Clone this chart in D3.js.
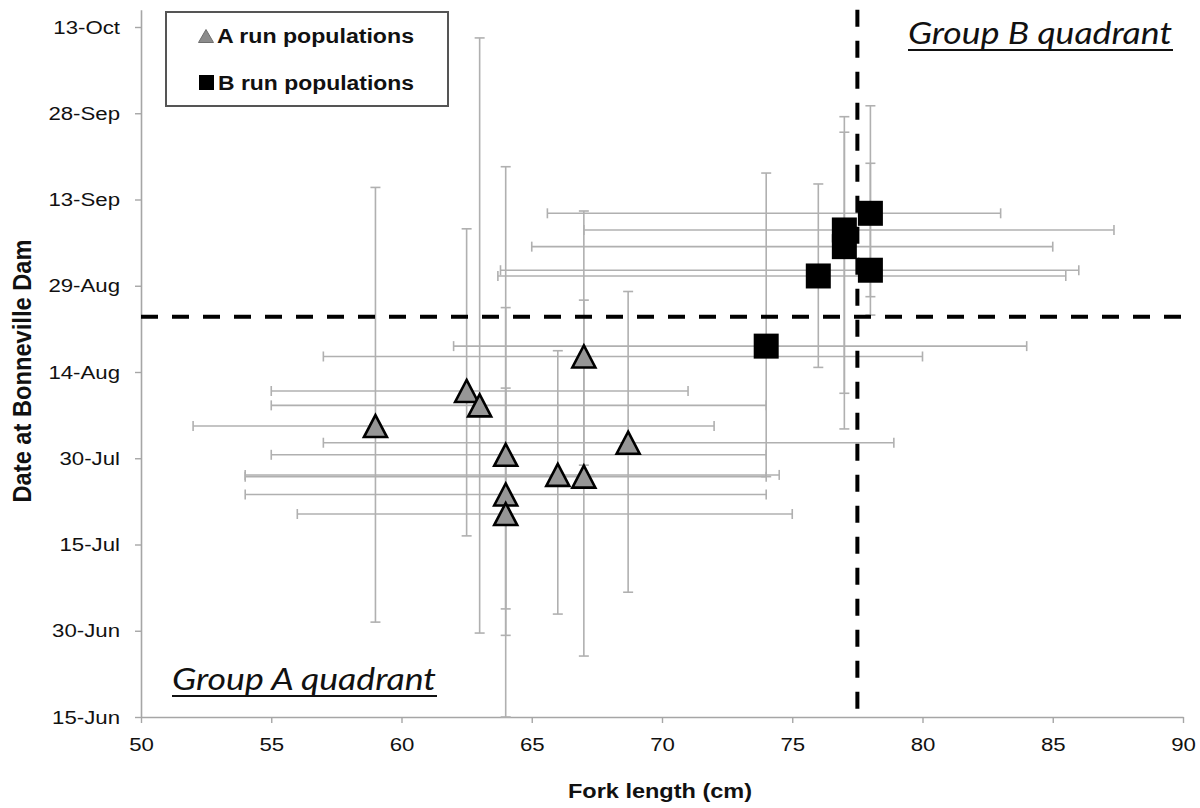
<!DOCTYPE html>
<html>
<head>
<meta charset="utf-8">
<script src="https://cdn.jsdelivr.net/npm/d3@7"></script>
<style>
  body { margin: 0; background: #fff; }
  svg { display: block; }
</style>
</head>
<body>
<div id="chart"></div>
<script>
// A run populations (triangles): fork length (cm), day of year at the dam, and error ranges
const aLength   = [59,    62.5,  63,    64,    64,    64,    66,    67,    67,    68.7];
const aDay      = [216.6, 222.7, 220.2, 211.6, 204.7, 201.3, 208.1, 207.8, 228.7, 213.7];
const aLengthLo = [52,    55,    55,    55,    54,    56,    54,    54,    57,    57];
const aLengthHi = [72,    71,    74,    74,    74,    75,    74.5,  74,    80,    78.9];
const aDayLo    = [182.5, 197.5, 180.6, 184.8, 180.2, 166,   183.9, 176.6, 209.8, 187.7];
const aDayHi    = [258.1, 250.9, 284.1, 261.7, 237.2, 223.2, 229.7, 238.5, 254,   240];

// B run populations (squares)
const bLength   = [74,    76,    77,    77,    78,    78];
const bDay      = [230.5, 242.7, 250.7, 247.8, 253.6, 243.7];
const bLengthLo = [62,    63.7,  67,    65,    65.6,  63.8];
const bLengthHi = [84,    85.5,  87.35, 85,    83,    86];
const bDayLo    = [207.8, 226.8, 222.3, 216.1, 239.1, 235.9];
const bDayHi    = [260.6, 258.7, 270.4, 267.7, 272.3, 262.3];

// quadrant split
const cutLength = 77.5;
const cutDay = 235.6;

const xTicks = [50, 55, 60, 65, 70, 75, 80, 85, 90];
const yTickDays = [166, 181, 196, 211, 226, 241, 256, 271, 286];
const yTickLabels = ["15-Jun", "30-Jun", "15-Jul", "30-Jul", "14-Aug", "29-Aug", "13-Sep", "28-Sep", "13-Oct"];

const width = 1200, height = 808;
const plotLeft = 141, plotRight = 1183, plotTop = 9.75, plotBottom = 717;

const x = d3.scaleLinear().domain([50, 90]).range([plotLeft, plotRight]);
const y = d3.scaleLinear().domain([166, 289]).range([plotBottom, plotTop]);

const svg = d3.select("#chart").append("svg")
  .attr("width", width)
  .attr("height", height)
  .style("font-family", "'Liberation Sans', Arial, sans-serif");

// stretch text horizontally (reference glyphs are wide)
function stretch(sel, k) {
  sel.each(function () {
    const t = d3.select(this);
    const tx = +t.attr("x") || 0, ty = +t.attr("y") || 0;
    t.attr("x", 0).attr("y", 0)
     .attr("transform", `translate(${tx},${ty}) scale(${k},1)`);
  });
}

// axes
const gx = svg.append("g")
  .attr("transform", `translate(0,${plotBottom})`)
  .call(d3.axisBottom(x).tickValues(xTicks).tickSize(6).tickSizeOuter(0).tickPadding(15));
const gy = svg.append("g")
  .attr("transform", `translate(${plotLeft},0)`)
  .call(d3.axisLeft(y).tickValues(yTickDays).tickFormat((d, i) => yTickLabels[i])
    .tickSize(6).tickSizeOuter(0).tickPadding(15));

[gx, gy].forEach(g => {
  g.select(".domain").attr("stroke", "#a6a6a6").attr("stroke-width", 1.6);
  g.selectAll(".tick line").attr("stroke", "#a6a6a6").attr("stroke-width", 1.4);
  g.selectAll("text").attr("font-size", 19).attr("fill", "#111")
    .attr("font-family", "'Liberation Sans', Arial, sans-serif");
});
stretch(gx.selectAll("text"), 1.17);
stretch(gy.selectAll("text"), 1.17);

// error bars
const cap = 5;
function errorBars(xs, ys, xlo, xhi, ylo, yhi) {
  const g = svg.append("g").attr("stroke", "#b0b0b0").attr("stroke-width", 1.6);
  xs.forEach((v, i) => {
    const px = x(v), py = y(ys[i]);
    const x0 = x(xlo[i]), x1 = x(xhi[i]);
    const y0 = y(ylo[i]), y1 = y(yhi[i]);
    g.append("line").attr("x1", x0).attr("x2", x1).attr("y1", py).attr("y2", py);
    g.append("line").attr("x1", x0).attr("x2", x0).attr("y1", py - cap).attr("y2", py + cap);
    g.append("line").attr("x1", x1).attr("x2", x1).attr("y1", py - cap).attr("y2", py + cap);
    g.append("line").attr("x1", px).attr("x2", px).attr("y1", y0).attr("y2", y1);
    g.append("line").attr("x1", px - cap).attr("x2", px + cap).attr("y1", y0).attr("y2", y0);
    g.append("line").attr("x1", px - cap).attr("x2", px + cap).attr("y1", y1).attr("y2", y1);
  });
}
errorBars(aLength, aDay, aLengthLo, aLengthHi, aDayLo, aDayHi);
errorBars(bLength, bDay, bLengthLo, bLengthHi, bDayLo, bDayHi);

// dashed quadrant lines
svg.append("line")
  .attr("x1", x(50)).attr("x2", x(90))
  .attr("y1", y(cutDay)).attr("y2", y(cutDay))
  .attr("stroke", "#000").attr("stroke-width", 4).attr("stroke-dasharray", "17,14");
svg.append("line")
  .attr("x1", x(cutLength)).attr("x2", x(cutLength))
  .attr("y1", y(289)).attr("y2", y(166))
  .attr("stroke", "#000").attr("stroke-width", 4).attr("stroke-dasharray", "17,14");

// markers
const tri = "M0,-11L11.5,11L-11.5,11Z";
svg.append("g").selectAll("path")
  .data(aLength)
  .enter()
  .append("path")
  .attr("d", tri)
  .attr("transform", (d, i) => `translate(${x(d)},${y(aDay[i])})`)
  .attr("fill", "#969696")
  .attr("stroke", "#000")
  .attr("stroke-width", 2.6)
  .attr("stroke-linejoin", "miter");

svg.append("g").selectAll("rect")
  .data(bLength)
  .enter()
  .append("rect")
  .attr("x", d => x(d) - 12.5)
  .attr("y", (d, i) => y(bDay[i]) - 12.5)
  .attr("width", 25)
  .attr("height", 25)
  .attr("fill", "#000");

// legend
const leg = svg.append("g");
leg.append("rect")
  .attr("x", 166).attr("y", 12).attr("width", 282).attr("height", 94)
  .attr("fill", "#fff").attr("stroke", "#555").attr("stroke-width", 2);
leg.append("path")
  .attr("d", "M0,-6.5L7.5,6.5L-7.5,6.5Z")
  .attr("transform", "translate(206,36)")
  .attr("fill", "#8c8c8c").attr("stroke", "#6e6e6e").attr("stroke-width", 1);
leg.append("rect")
  .attr("x", 199).attr("y", 75).attr("width", 15).attr("height", 15).attr("fill", "#000");
leg.append("text").attr("x", 217).attr("y", 43).text("A run populations")
  .attr("font-size", 20).attr("font-weight", "bold").attr("fill", "#111")
  .attr("textLength", 197).attr("lengthAdjust", "spacingAndGlyphs");
leg.append("text").attr("x", 218).attr("y", 90).text("B run populations")
  .attr("font-size", 20).attr("font-weight", "bold").attr("fill", "#111")
  .attr("textLength", 196).attr("lengthAdjust", "spacingAndGlyphs");

// quadrant labels
function quadLabel(tx, ty, label) {
  svg.append("text").attr("x", tx).attr("y", ty).text(label)
    .attr("font-family", "Lato, 'Open Sans', sans-serif")
    .attr("font-style", "italic")
    .attr("font-size", 31)
    .attr("fill", "#111")
    .attr("textLength", 264).attr("lengthAdjust", "spacingAndGlyphs");
  svg.append("line")
    .attr("x1", tx).attr("x2", tx + 265)
    .attr("y1", ty + 6).attr("y2", ty + 6)
    .attr("stroke", "#111").attr("stroke-width", 2);
}
quadLabel(172, 690, "Group A quadrant");
quadLabel(908, 44, "Group B quadrant");

// axis titles
svg.append("text")
  .attr("x", 660).attr("y", 798)
  .attr("text-anchor", "middle")
  .attr("font-size", 20).attr("font-weight", "bold").attr("fill", "#111")
  .attr("textLength", 184).attr("lengthAdjust", "spacingAndGlyphs")
  .text("Fork length (cm)");
svg.append("text")
  .attr("transform", "translate(31,371) rotate(-90) scale(1,1.15)")
  .attr("text-anchor", "middle")
  .attr("font-size", 22).attr("font-weight", "bold").attr("fill", "#111")
  .attr("textLength", 263).attr("lengthAdjust", "spacingAndGlyphs")
  .text("Date at Bonneville Dam");
</script>
</body>
</html>
